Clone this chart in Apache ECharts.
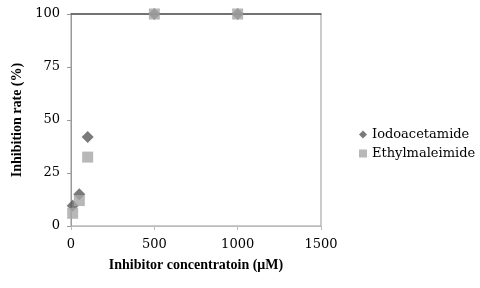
<!DOCTYPE html>
<html>
<head>
<meta charset="utf-8">
<script src="https://cdn.jsdelivr.net/npm/echarts@6/dist/echarts.min.js"></script>
<style>
  html, body { margin: 0; padding: 0; background: #fff; }
  #chart { width: 480px; height: 288px; }
</style>
</head>
<body>
<div id="chart"></div>
<script>
// concentrations (µM) and inhibition (%)
const iodoX = [10, 50, 100, 500, 1000]
const iodoY = [9.5, 15, 42, 100, 100]
const ethylX = [10, 50, 100, 500, 1000]
const ethylY = [6, 12, 32.5, 100, 100]
const xTicks = [0, 500, 1000, 1500]
const yTicks = [0, 25, 50, 75, 100]

const font = 'DejaVu Serif'
const titleFont = 'Liberation Serif'

function pairs(xs, ys) {
  return xs.map((x, i) => [x, ys[i]])
}

const chart = echarts.init(document.getElementById('chart'))

chart.setOption({
  animation: false,
  textStyle: { fontFamily: font },
  grid: {
    left: 71, right: 159, top: 14, bottom: 62,
    show: true, borderColor: '#999', borderWidth: 1
  },
  legend: {
    orient: 'vertical',
    left: 354, top: 123,
    itemWidth: 8, itemHeight: 8, itemGap: 6,
    textStyle: { fontFamily: font, fontSize: 13, color: '#000' },
    data: [
      { name: 'Iodoacetamide', icon: 'diamond' },
      { name: 'Ethylmaleimide', icon: 'rect' }
    ]
  },
  xAxis: [{
    type: 'value',
    min: xTicks[0], max: xTicks[xTicks.length - 1], interval: 500,
    name: 'Inhibitor concentratoin (μM)',
    nameLocation: 'middle', nameGap: 32,
    nameTextStyle: { fontFamily: titleFont, fontSize: 14, fontWeight: 'bold', color: '#000' },
    axisLine: { lineStyle: { color: '#bbb' } },
    axisTick: { show: true, length: 4, lineStyle: { color: '#bbb' } },
    axisLabel: { fontFamily: font, fontSize: 13, color: '#000', margin: 12, formatter: v => String(v) },
    splitLine: { show: false }
  }, {
    type: 'value', position: 'top',
    min: 0, max: 1500,
    axisLine: { show: true, lineStyle: { color: '#555', width: 1.5 } },
    axisTick: { show: false }, axisLabel: { show: false },
    splitLine: { show: false }
  }],
  yAxis: {
    type: 'value',
    min: yTicks[0], max: yTicks[yTicks.length - 1], interval: 25,
    name: 'Inhibition rate (%)',
    nameLocation: 'middle', nameGap: 44,
    nameTextStyle: { fontFamily: titleFont, fontSize: 14, fontWeight: 'bold', color: '#000' },
    axisLine: { show: true, lineStyle: { color: '#999' } },
    axisTick: { show: true, length: 4, lineStyle: { color: '#999' } },
    axisLabel: { fontFamily: font, fontSize: 13, color: '#000', margin: 11 },
    splitLine: { show: false }
  },
  series: [{
    name: 'Iodoacetamide',
    type: 'scatter',
    symbol: 'diamond',
    symbolSize: 12,
    itemStyle: { color: '#595959' },
    data: pairs(iodoX, iodoY)
  }, {
    name: 'Ethylmaleimide',
    type: 'scatter',
    symbol: 'rect',
    symbolSize: 11,
    itemStyle: { color: '#a6a6a6' },
    data: pairs(ethylX, ethylY)
  }]
})
</script>
</body>
</html>
